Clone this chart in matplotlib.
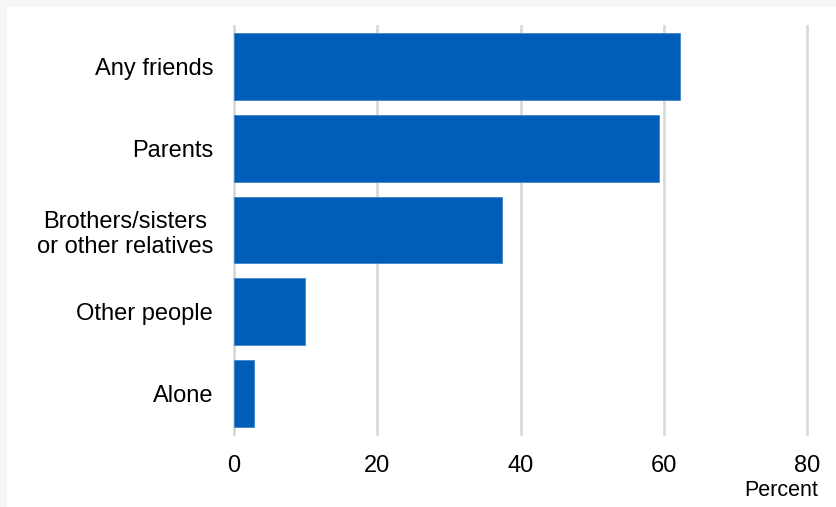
import matplotlib.pyplot as plt
from matplotlib.patches import Rectangle

categories = ["Any friends", "Parents", "Brothers/sisters\nor other relatives",
              "Other people", "Alone"]
values = [62.3, 59.3, 37.4, 9.9, 2.8]
x_ticks = [0, 20, 40, 60, 80]

W, H = 836, 507
fig = plt.figure(figsize=(W / 100, H / 100), dpi=100, facecolor='#f7f7f7')
plt.rcParams['font.family'] = ['Liberation Sans', 'DejaVu Sans']

# white panel, light grey strip on top and left
fig.patches.append(Rectangle((7 / W, 0), 1, 1 - 7 / H, transform=fig.transFigure,
                             facecolor='white', edgecolor='none', zorder=-10))

ax = fig.add_axes([234 / W, 1 - 434 / H, (807 - 234) / W, (434 - 26) / H])
ax.set_facecolor('none')

y = list(range(len(categories)))
ax.barh(y, values, height=0.82, color='#005eb8', edgecolor='#3f86cc',
        linewidth=0.6, zorder=3)

ax.set_xlim(0, 80)
ax.set_ylim(len(categories) - 0.5, -0.5)
ax.set_xticks(x_ticks)
ax.set_xticklabels([str(t) for t in x_ticks])
ax.set_yticks(y)
ax.set_yticklabels(categories, multialignment='center')

ax.grid(axis='x', color='#d9d9d9', linewidth=2, zorder=0)
for gl in ax.get_xgridlines():
    gl.set_clip_on(False)
for s in ax.spines.values():
    s.set_visible(False)
ax.tick_params(axis='both', length=0, labelsize=17, colors='#000000')
ax.tick_params(axis='x', pad=15)
ax.tick_params(axis='y', pad=15)

fig.text(818 / W, 1 - 491 / H, 'Percent', ha='right', va='center', fontsize=15.5)

fig.savefig('out.png', dpi=100, facecolor=fig.get_facecolor())
